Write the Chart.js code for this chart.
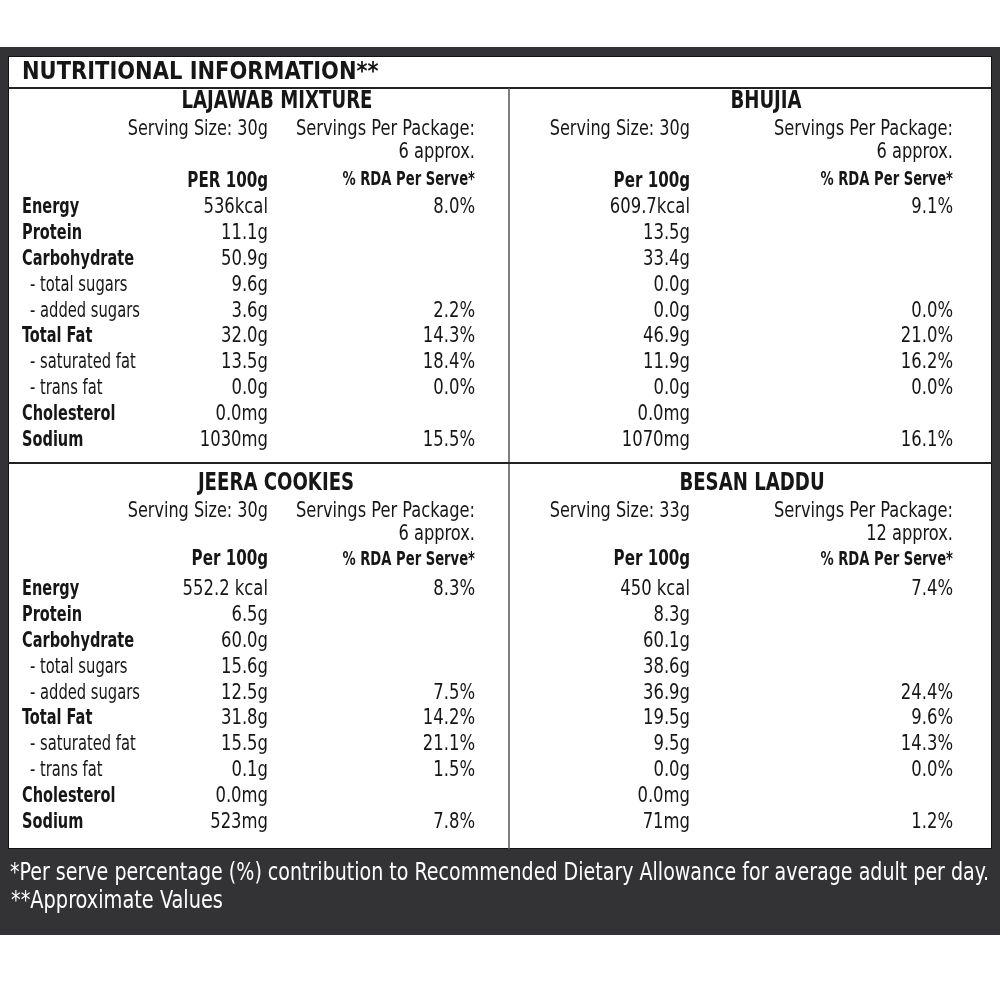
<!DOCTYPE html>
<html lang="en">
<head>
    <meta charset="UTF-8">
    <title>Nutritional Information</title>
    <script src="https://cdn.jsdelivr.net/npm/chart.js@4.4.0/dist/chart.umd.min.js"></script>
    <style>
        body { margin: 0; background: #fff; }
        #chart { display: block; }
    </style>
</head>
<body>
<canvas id="chart" width="1000" height="1000"></canvas>

<script>
    const TITLE = 'NUTRITIONAL INFORMATION**';
    const products = ['LAJAWAB MIXTURE', 'BHUJIA', 'JEERA COOKIES', 'BESAN LADDU'];
    const servingSizes = ['30g', '30g', '30g', '33g'];
    const servingsPerPack = ['6', '6', '6', '12'];
    const per100Headers = ['PER 100g', 'Per 100g', 'Per 100g', 'Per 100g'];
    const nutrients = ['Energy', 'Protein', 'Carbohydrate', '- total sugars', '- added sugars',
        'Total Fat', '- saturated fat', '- trans fat', 'Cholesterol', 'Sodium'];
    const boldRows = [true, true, true, false, false, true, false, false, true, true];

    const lajawabPer100 = ['536kcal', '11.1g', '50.9g', '9.6g', '3.6g', '32.0g', '13.5g', '0.0g', '0.0mg', '1030mg'];
    const lajawabRda = ['8.0%', '', '', '', '2.2%', '14.3%', '18.4%', '0.0%', '', '15.5%'];
    const bhujiaPer100 = ['609.7kcal', '13.5g', '33.4g', '0.0g', '0.0g', '46.9g', '11.9g', '0.0g', '0.0mg', '1070mg'];
    const bhujiaRda = ['9.1%', '', '', '', '0.0%', '21.0%', '16.2%', '0.0%', '', '16.1%'];
    const jeeraPer100 = ['552.2 kcal', '6.5g', '60.0g', '15.6g', '12.5g', '31.8g', '15.5g', '0.1g', '0.0mg', '523mg'];
    const jeeraRda = ['8.3%', '', '', '', '7.5%', '14.2%', '21.1%', '1.5%', '', '7.8%'];
    const besanPer100 = ['450 kcal', '8.3g', '60.1g', '38.6g', '36.9g', '19.5g', '9.5g', '0.0g', '0.0mg', '71mg'];
    const besanRda = ['7.4%', '', '', '', '24.4%', '9.6%', '14.3%', '0.0%', '', '1.2%'];

    const FOOTNOTES = [
        '*Per serve percentage (%) contribution to Recommended Dietary Allowance for average adult per day.',
        '**Approximate Values'
    ];

    const per100 = [lajawabPer100, bhujiaPer100, jeeraPer100, besanPer100];
    const rda = [lajawabRda, bhujiaRda, jeeraRda, besanRda];

    // layout (scale units, 0..1000 both ways)
    const FONT = '"DejaVu Sans Condensed", "DejaVu Sans", sans-serif';
    const DARK = '#333336';
    const INK = '#161616';
    const panels = [
        { nameX: 277, valX: 268, rdaX: 475, top: 0, labels: true },
        { nameX: 766, valX: 690, rdaX: 953, top: 0, labels: false },
        { nameX: 276, valX: 268, rdaX: 475, top: 382, labels: true },
        { nameX: 752, valX: 690, rdaX: 953, top: 382, labels: false }
    ];
    const ROW_START = 208;
    const ROW_STEP = 25.8;

    const tablePlugin = {
        id: 'nutritionTable',
        afterDraw(chart) {
            const ctx = chart.ctx;
            const sx = chart.scales.x;
            const sy = chart.scales.y;
            const px = v => sx.getPixelForValue(v);
            const py = v => sy.getPixelForValue(v);

            // condensed text: squeeze horizontally by sq
            function text(str, x, y, size, bold, align, sq, color) {
                ctx.save();
                ctx.font = (bold ? 'bold ' : '') + size + 'px ' + FONT;
                ctx.textAlign = align;
                ctx.textBaseline = 'middle';
                ctx.fillStyle = color || INK;
                ctx.translate(px(x), py(y));
                ctx.scale(sq, 1);
                ctx.fillText(str, 0, 0);
                ctx.restore();
            }

            function line(x1, y1, x2, y2, w, color) {
                ctx.beginPath();
                ctx.moveTo(px(x1), py(y1));
                ctx.lineTo(px(x2), py(y2));
                ctx.lineWidth = w;
                ctx.strokeStyle = color;
                ctx.stroke();
            }

            ctx.save();
            ctx.fillStyle = DARK;
            ctx.fillRect(px(0), py(47), px(1000) - px(0), py(935) - py(47));
            ctx.fillStyle = '#fff';
            ctx.fillRect(px(8), py(56), px(992) - px(8), py(849) - py(56));
            ctx.strokeStyle = '#111';
            ctx.lineWidth = 1;
            ctx.strokeRect(px(8) + 0.5, py(56) + 0.5, px(992) - px(8) - 1, py(849) - py(56) - 1);

            text(TITLE, 22, 72, 25, true, 'left', 0.935);
            line(8, 88, 992, 88, 2, '#222');
            line(509, 88, 509, 849, 1.5, '#555');
            line(8, 463, 992, 463, 2, '#222');

            panels.forEach((p, i) => {
                const t = p.top;
                text(products[i], p.nameX, 102 + t, 24, true, 'center', 0.84);
                text('Serving Size: ' + servingSizes[i], p.valX, 130 + t, 21, false, 'right', 0.85);
                text('Servings Per Package:', p.rdaX, 130 + t, 21, false, 'right', 0.86);
                text(servingsPerPack[i] + ' approx.', p.rdaX, 153 + t, 21, false, 'right', 0.86);
                text(per100Headers[i], p.valX, (t ? 178 : 182) + t, 21, true, 'right', 0.8);
                text('% RDA Per Serve*', p.rdaX, (t ? 178 : 180) + t, 19, true, 'right', 0.77);
                nutrients.forEach((n, r) => {
                    const y = ROW_START + t + r * ROW_STEP;
                    if (p.labels) {
                        if (boldRows[r]) text(n, 22, y, 21, true, 'left', 0.77);
                        else text(n, 30, y, 21, false, 'left', 0.78);
                    }
                    text(per100[i][r], p.valX, y, 21, false, 'right', 0.87);
                    if (rda[i][r]) text(rda[i][r], p.rdaX, y, 21, false, 'right', 0.87);
                });
            });

            text(FOOTNOTES[0], 10, 873, 25, false, 'left', 0.847, '#fff');
            text(FOOTNOTES[1], 11, 901, 25, false, 'left', 0.86, '#fff');
            ctx.restore();
        }
    };

    new Chart(document.getElementById('chart'), {
        type: 'scatter',
        data: { datasets: [] },
        options: {
            responsive: false,
            animation: false,
            layout: { padding: 0 },
            plugins: { legend: { display: false }, tooltip: { enabled: false } },
            scales: {
                x: { type: 'linear', min: 0, max: 1000, display: false },
                y: { type: 'linear', min: 0, max: 1000, reverse: true, display: false }
            }
        },
        plugins: [tablePlugin]
    });
</script>
</body>
</html>
